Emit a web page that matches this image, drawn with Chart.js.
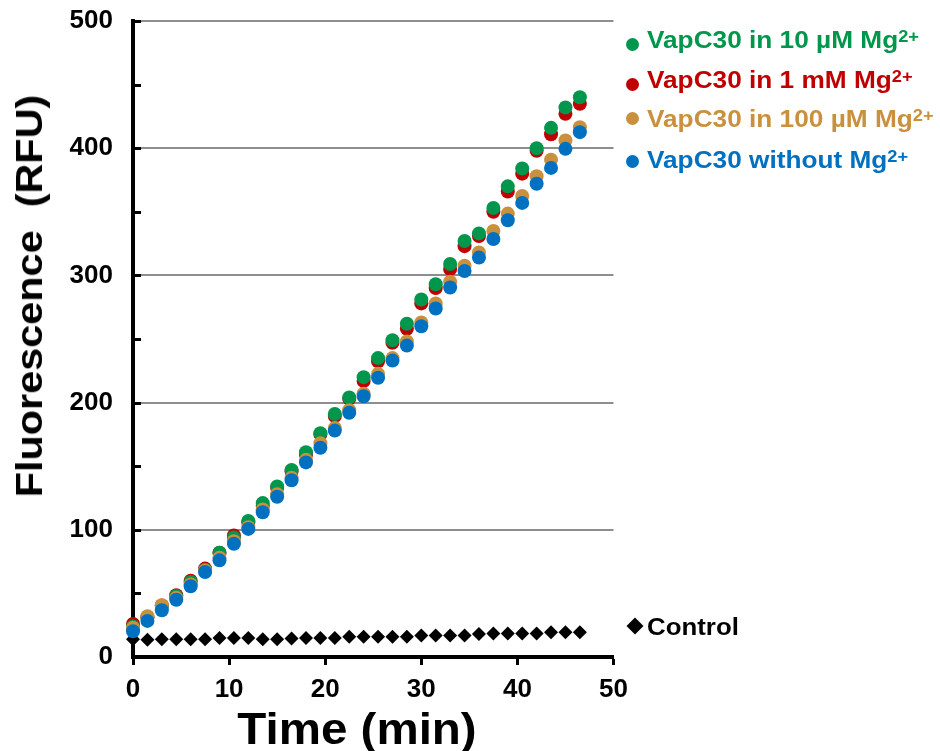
<!DOCTYPE html>
<html>
<head>
<meta charset="utf-8">
<script src="https://cdn.jsdelivr.net/npm/chart.js@4"></script>
<style>
html,body{margin:0;padding:0;background:#fff;}
#wrap{position:relative;width:940px;height:751px;overflow:hidden;}
#c{position:absolute;left:0;top:0;}
.t{position:absolute;font-family:"Liberation Sans",Arial,sans-serif;font-weight:bold;white-space:pre;line-height:1;transform-origin:0 0;}
.sup{font-size:16px;vertical-align:6px;}
.dot{position:absolute;width:13px;height:13px;border-radius:50%;}
</style>
</head>
<body>
<div id="wrap">
<canvas id="c" width="940" height="751"></canvas>
<div class="t" style="left:30px;top:296px;font-size:36px;color:#000;transform-origin:50% 50%;transform:translate(-50%,-50%) rotate(-90deg) scaleX(1.15);">Fluorescence  (RFU)</div>
<div class="t" style="left:357px;top:729px;font-size:44px;color:#000;transform-origin:50% 50%;transform:translate(-50%,-50%) scaleX(1.08);">Time (min)</div>

<div class="dot" style="left:626px;top:38px;background:#00964B;"></div>
<div class="t" style="left:647px;top:28.8px;font-size:23px;color:#00964B;transform:scaleX(1.14);">VapC30 in 10 µM Mg<span class="sup">2+</span></div>
<div class="dot" style="left:626px;top:77.5px;background:#C00000;"></div>
<div class="t" style="left:647px;top:68.8px;font-size:23px;color:#C00000;transform:scaleX(1.14);">VapC30 in 1 mM Mg<span class="sup">2+</span></div>
<div class="dot" style="left:626px;top:112px;background:#C9913D;"></div>
<div class="t" style="left:647px;top:107.8px;font-size:23px;color:#C9913D;transform:scaleX(1.14);">VapC30 in 100 µM Mg<span class="sup">2+</span></div>
<div class="dot" style="left:626px;top:155px;background:#0070C0;"></div>
<div class="t" style="left:647px;top:148.8px;font-size:23px;color:#0070C0;transform:scaleX(1.14);">VapC30 without Mg<span class="sup">2+</span></div>

<div style="position:absolute;left:628.7px;top:620px;width:12px;height:12px;background:#000;transform:rotate(45deg);"></div>
<div class="t" style="left:647px;top:616px;font-size:23.5px;color:#000;transform:scaleX(1.1);">Control</div>
</div>
<script>
// ---- data ----
const timeMin = [0,1.5,3,4.5,6,7.5,9,10.5,12,13.5,15,16.5,18,19.5,21,22.5,24,25.5,27,28.5,30,31.5,33,34.5,36,37.5,39,40.5,42,43.5,45,46.5];
const mg10uM  = [24,31.5,40,48,59,68.5,82,94,107,121,134,147,161,176,191,204,220,235,249,262,281,293,309,327,333,353,370,384,400,416,432,440];
const mg1mM   = [26,31,40.5,48.5,60,69.5,82,95.5,106,119,133,146,159,175,189.5,203,217,232.5,247,258,278,290,305,323,331,350,366,380,398,411,427,435];
const mg100uM = [23,32,40.7,46.5,57,68,78,91,102,116,128,141,155,168,180,194,207,222.6,235,248,263,278,295,307.6,318,335,348.6,362.5,378,391,406,416.5];
const noMg    = [20.3,28.4,36.8,45,55.6,66.8,76,89,100.7,113.8,126,139,153,164.5,178,192,205,219.5,233,244.8,260,274,290.5,303.5,314,328.6,343.4,357,372,384.5,399.5,412.6];
const control = [14,13.5,14,14,14,14,15,15,15,14,14,14.5,15,15,15,16,16,16,16,16,17,17,17,17,18,18.5,18.5,18.5,18.5,19.5,19.5,19.5];
const xTicks = [0,10,20,30,40,50];
const yTicks = [0,100,200,300,400,500];
const yTickMarks = [0,50,100,150,200,250,300,350,400,450,500];

const pts = arr => arr.map((v,i) => ({x: timeMin[i], y: v}));

const innerYTicks = {
  id: 'innerYTicks',
  afterDraw(chart) {
    const ys = chart.scales.y, ctx = chart.ctx, left = chart.chartArea.left;
    ctx.save();
    ctx.strokeStyle = '#000';
    ctx.lineWidth = 3;
    yTickMarks.forEach(v => {
      const p = Math.round(ys.getPixelForValue(v)) + 0.5;
      ctx.beginPath();
      ctx.moveTo(left, p);
      ctx.lineTo(left + 8, p);
      ctx.stroke();
    });
    ctx.restore();
  }
};

const ds = (data, color, style, r) => ({
  data: pts(data), showLine: false, clip: false,
  pointStyle: style, pointRadius: r, pointHoverRadius: r,
  pointBackgroundColor: color, pointBorderColor: color, pointBorderWidth: 0
});

new Chart(document.getElementById('c'), {
  type: 'scatter',
  data: {
    datasets: [
      ds(noMg, '#0070C0', 'circle', 7),
      ds(mg100uM, '#C9913D', 'circle', 7),
      ds(mg10uM, '#00964B', 'circle', 7),
      ds(mg1mM, '#C00000', 'circle', 7),
      ds(control, '#000000', 'rectRot', 7)
    ]
  },
  options: {
    responsive: false,
    animation: false,
    events: [],
    layout: { padding: { left: 0, right: 326.5, top: 21, bottom: 0 } },
    plugins: { legend: { display: false }, tooltip: { enabled: false } },
    scales: {
      x: {
        type: 'linear', min: 0, max: 50,
        afterBuildTicks: s => { s.ticks = xTicks.map(v => ({value: v})); },
        afterFit: s => { s.height = 94; s.paddingLeft = 0; s.paddingRight = 0; },
        ticks: { color: '#000', padding: 9, font: { family: '"Liberation Sans", Arial, sans-serif', size: 26, weight: 'bold' } },
        grid: { display: true, drawOnChartArea: false, drawTicks: true, tickLength: 8, tickColor: '#000', tickWidth: 3 },
        border: { display: true, color: '#000', width: 4 }
      },
      y: {
        type: 'linear', min: 0, max: 500,
        afterBuildTicks: s => { s.ticks = yTicks.map(v => ({value: v})); },
        afterFit: s => { s.width = 133; s.paddingTop = 0; s.paddingBottom = 0; },
        ticks: { color: '#000', padding: 20, font: { family: '"Liberation Sans", Arial, sans-serif', size: 26, weight: 'bold' } },
        grid: {
          drawTicks: false,
          lineWidth: 2,
          color: c => (c.tick && c.tick.value === 0) ? 'rgba(0,0,0,0)' : '#8e8e8e'
        },
        border: { display: true, color: '#000', width: 4 }
      }
    }
  },
  plugins: [innerYTicks]
});
</script>
</body>
</html>
